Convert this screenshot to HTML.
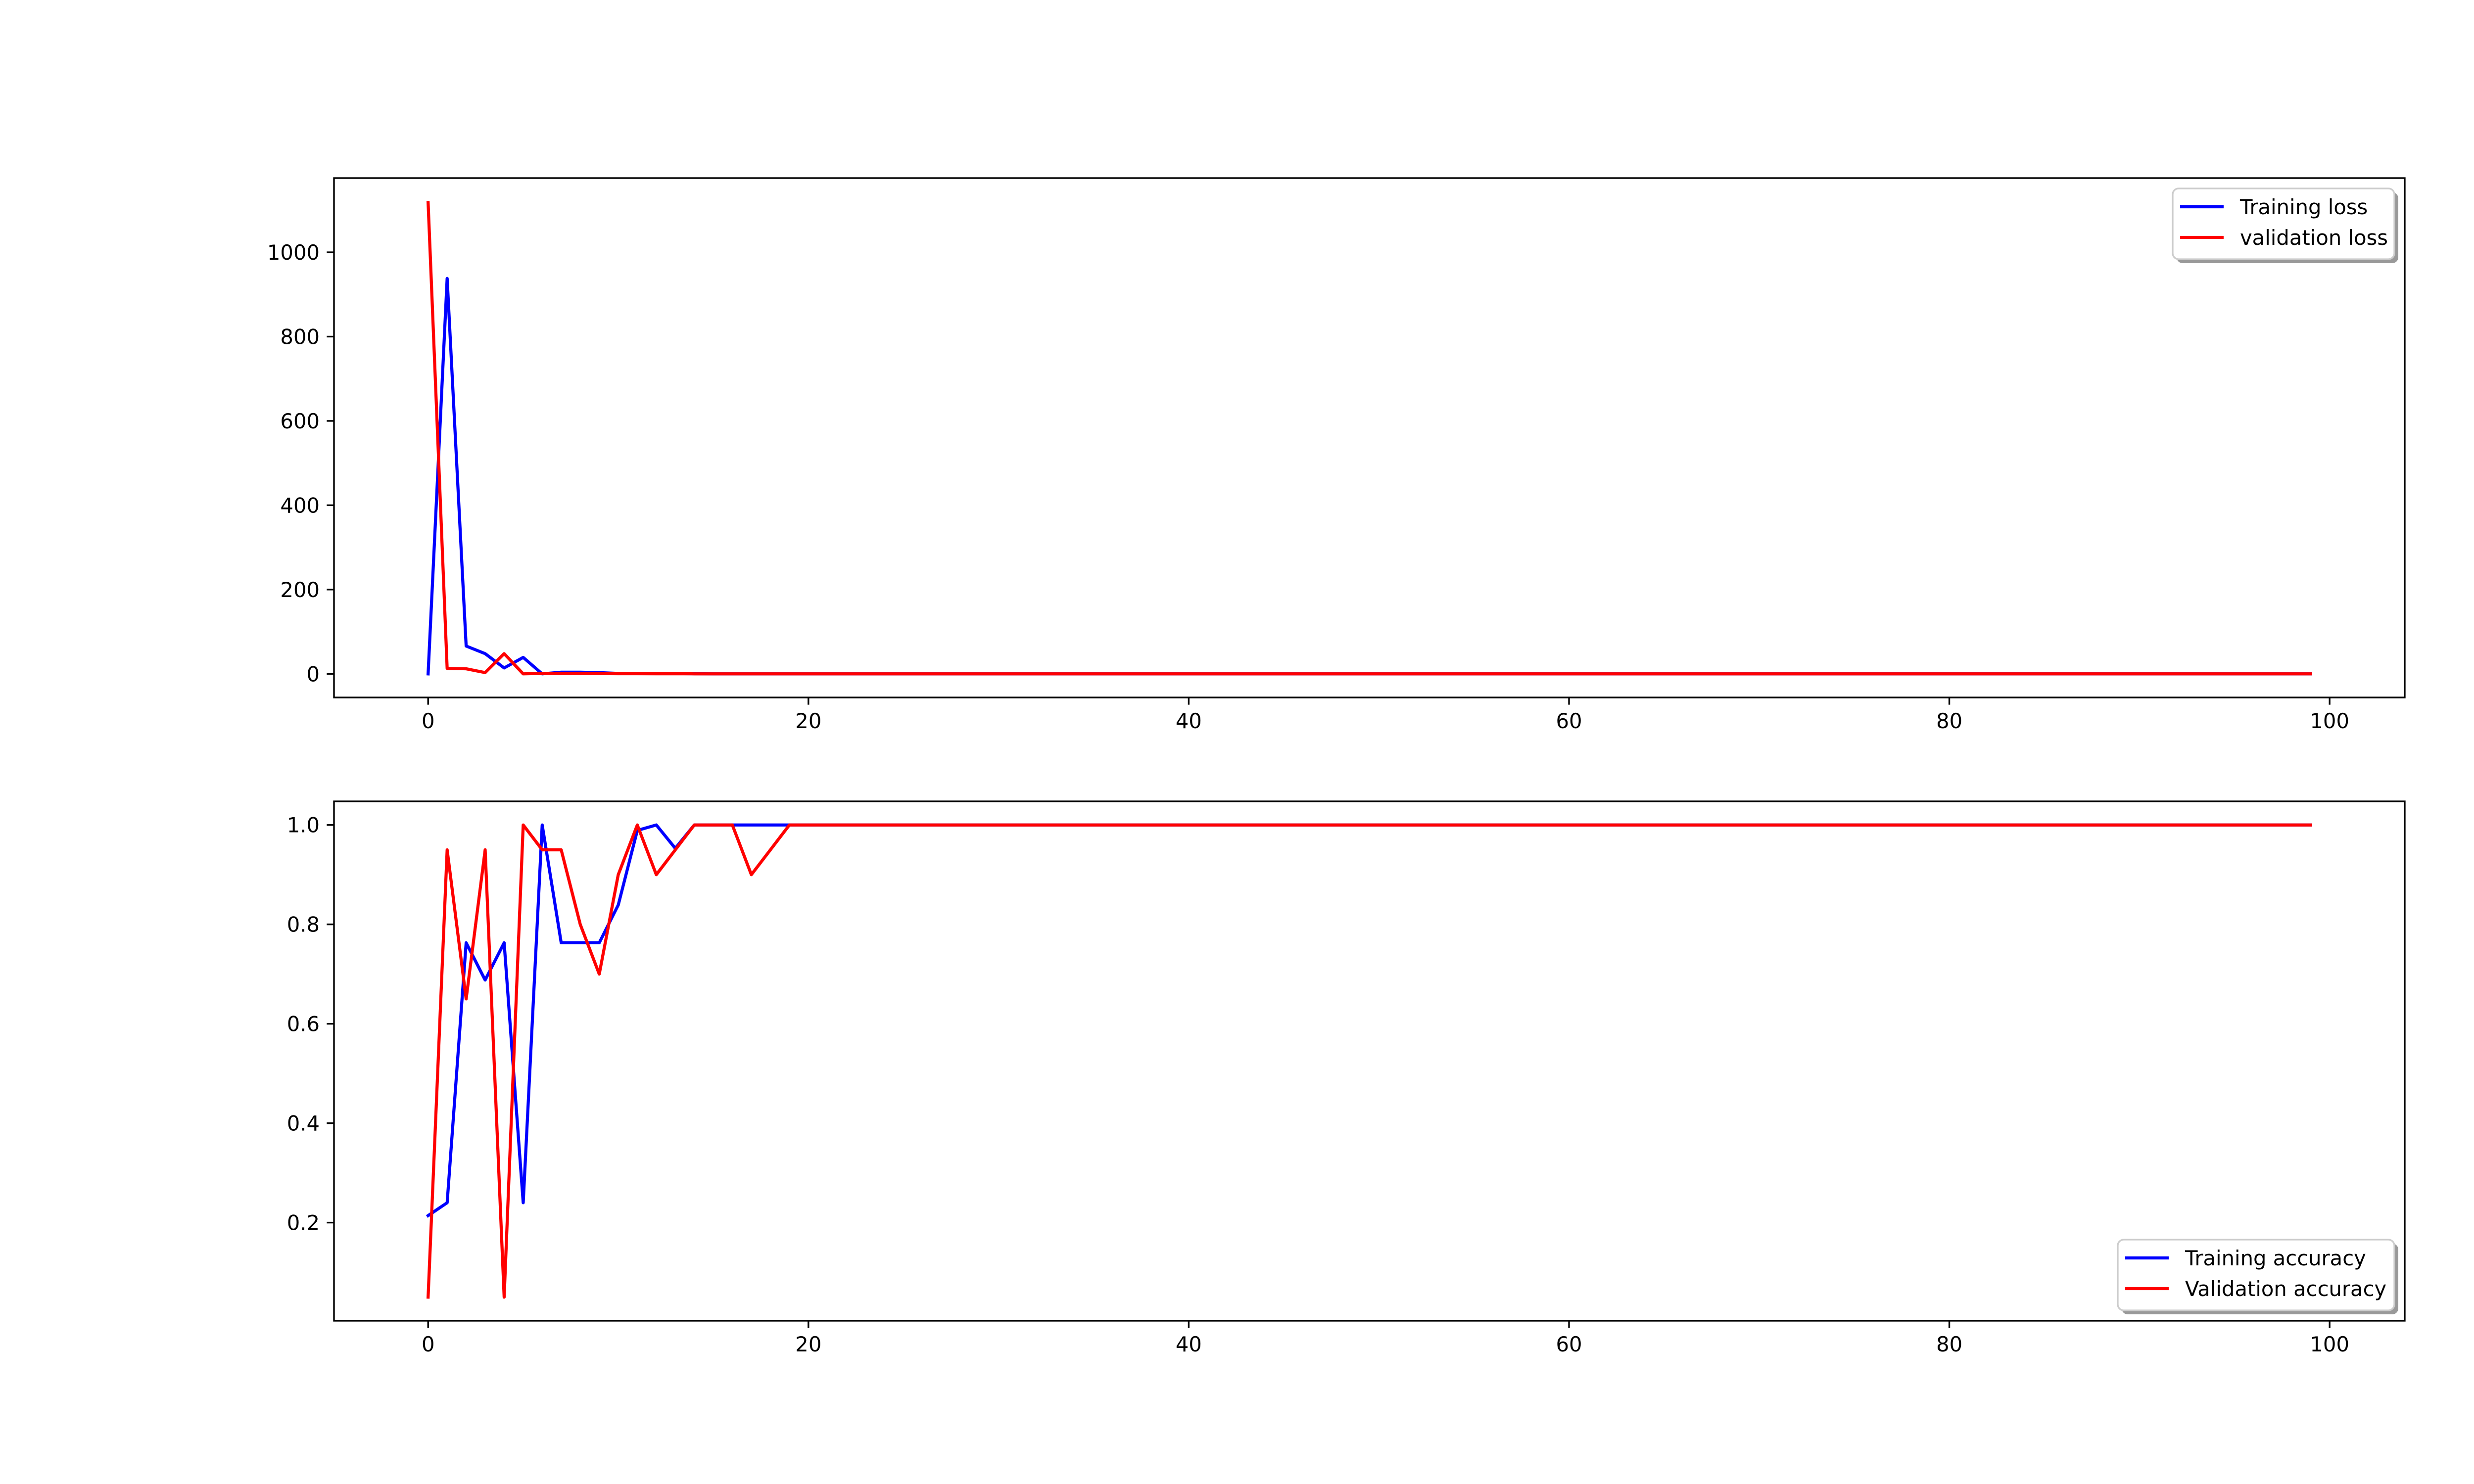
<!DOCTYPE html>
<html><head><meta charset="utf-8"><style>
html,body{margin:0;padding:0;background:#fff}
svg{display:block}
text{font-family:"DejaVu Sans","Liberation Sans",sans-serif;font-size:41.7px;fill:#000}
</style></head><body>
<svg id="fig" width="5400" height="3000" xmlns="http://www.w3.org/2000/svg"></svg>
<script>
const epochs = Array.from({length:100},(_, i)=>i);
const trainLoss = [0,938,66,48,14,39,0,4,4,3,1,1,0.5,0.5,0.3];
const valLoss = [1118,13,12,3,48,0,1,0.5,0.5,0.5,0.3,0.3,0.2,0.2,0.1];
const trainAcc = [0.214,0.24,0.763,0.688,0.763,0.24,1.0,0.763,0.763,0.763,0.839,0.989,1.0,0.953,1.0];
const valAcc = [0.05,0.95,0.65,0.95,0.05,1.0,0.95,0.95,0.8,0.7,0.9,1.0,0.9,0.95,1.0,1.0,1.0,0.9,0.95,1.0];
const xTicks = [0,20,40,60,80,100];
const lossTicks = [0,200,400,600,800,1000];
const accTicks = [0.2,0.4,0.6,0.8,1.0];
const accTickLabels = ["0.2","0.4","0.6","0.8","1.0"];

function fill(arr, v){ const out = arr.slice(); while(out.length<100) out.push(v); return out; }
const NS="http://www.w3.org/2000/svg";
const svg=document.getElementById('fig');
function el(tag, attrs, parent){ const e=document.createElementNS(NS,tag); for(const k in attrs) e.setAttribute(k,attrs[k]); (parent||svg).appendChild(e); return e; }

const L=675,R=4860;
const xmin=-4.95,xmax=103.95;
const sx=v=>L+(v-xmin)/(xmax-xmin)*(R-L);

function panel(name, top, bottom, ymin, ymax, ticks, labels, series, legend){
  const g=el('g',{});
  
  
  const sy=v=>bottom-(v-ymin)/(ymax-ymin)*(bottom-top);
  const cp='clip-'+name;
  const defs=el('defs',{},g);
  const c=el('clipPath',{id:cp},defs);
  el('rect',{x:L,y:top,width:R-L,height:bottom-top},c);
  series.forEach(s=>{
    const pts=s.data.map((v,i)=>sx(epochs[i]).toFixed(1)+','+sy(v).toFixed(1)).join(' ');
    const p=el('polyline',{points:pts,fill:'none',stroke:s.color,'stroke-width':6.25,'stroke-linejoin':'round','stroke-linecap':'square','clip-path':'url(#'+cp+')'},g);
    
    
  });
  const frame=el('rect',{x:L,y:top,width:R-L,height:bottom-top,fill:'none',stroke:'#000','stroke-width':3.33},g);
  
  
  xTicks.forEach(t=>{
    const x=sx(t);
    el('line',{x1:x,y1:bottom,x2:x,y2:bottom+14.6,stroke:'#000','stroke-width':3.33},g);
    const tx=el('text',{x:x,y:bottom+62,'text-anchor':'middle'},g);
    tx.textContent=t;
    
    
  });
  ticks.forEach((t,i)=>{
    const y=sy(t);
    el('line',{x1:L-14.6,y1:y,x2:L,y2:y,stroke:'#000','stroke-width':3.33},g);
    const tx=el('text',{x:L-29,y:y+15,'text-anchor':'end'},g);
    tx.textContent=labels[i];
    
    
  });
  // legend
  const lg=el('g',{},g);
  
  
  const w=legend.w,h=143,x0=R-21-w,y0=legend.bottom?bottom-21-h:top+21;
  el('rect',{x:x0+8,y:y0+8,width:w,height:h,rx:12,fill:'#999'},lg);
  el('rect',{x:x0,y:y0,width:w,height:h,rx:12,fill:'#fff',stroke:'#ccc','stroke-width':3.33},lg);
  series.forEach((s,i)=>{
    const yy=y0+37+i*62;
    el('line',{x1:x0+15,y1:yy,x2:x0+103,y2:yy,stroke:s.color,'stroke-width':6.25},lg);
    const t=el('text',{x:x0+136,y:yy+15},lg);
    t.textContent=s.label;
    
    
  });
}
panel('loss',360,1410,-56,1176,lossTicks,lossTicks.map(String),
  [{name:'training-loss',label:'Training loss',color:'#0000ff',data:fill(trainLoss,0.1)},
   {name:'validation-loss',label:'validation loss',color:'#ff0000',data:fill(valLoss,0.1)}],
  {w:448,bottom:false});
panel('accuracy',1620,2670,0.0025,1.0475,accTicks,accTickLabels,
  [{name:'training-accuracy',label:'Training accuracy',color:'#0000ff',data:fill(trainAcc,1.0)},
   {name:'validation-accuracy',label:'Validation accuracy',color:'#ff0000',data:fill(valAcc,1.0)}],
  {w:559,bottom:true});
</script>
</body></html>
